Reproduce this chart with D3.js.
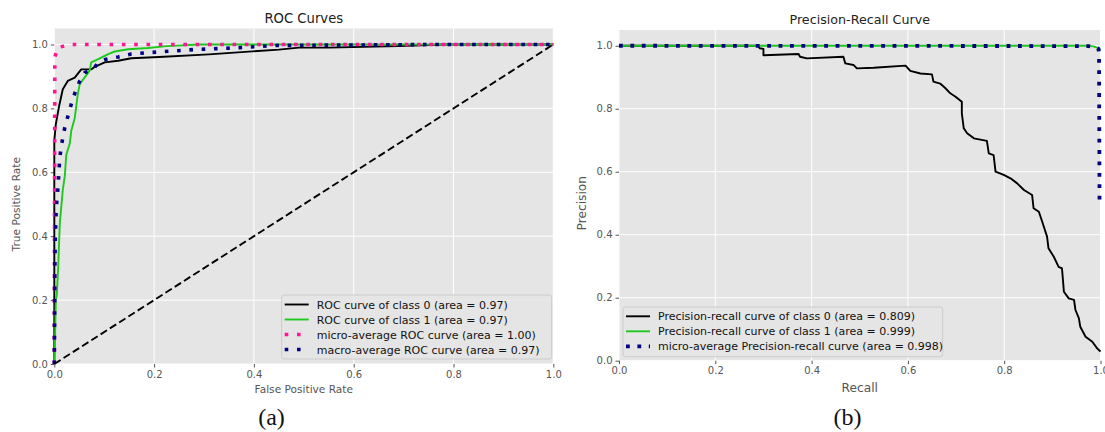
<!DOCTYPE html>
<html lang="en">
<head>
  <meta charset="UTF-8">
  <title>ROC and Precision-Recall</title>
  <style>
    body { margin: 0; background: #fff; }
    svg { display: block; font-family: "DejaVu Sans", sans-serif; }
  </style>
</head>
<body>
  <script src="https://cdn.jsdelivr.net/npm/d3@7"></script>
  <script>
    // ---- data ----
    const ticks = [0, 0.2, 0.4, 0.6, 0.8, 1.0];

    // ROC: [false positive rate, true positive rate]
    const rocClass0 = [[0,0],[0,0.70],[0.003,0.75],[0.01,0.81],[0.017,0.86],[0.027,0.886],[0.041,0.896],
      [0.054,0.922],[0.074,0.922],[0.081,0.93],[0.101,0.944],[0.128,0.949],[0.154,0.957],[0.21,0.961],
      [0.31,0.969],[0.45,0.984],[0.49,0.99],[0.55,0.99],[0.69,0.995],[0.78,1.0],[1,1]];
    const rocClass1 = [[0,0],[0.001,0.04],[0.003,0.2],[0.005,0.216],[0.008,0.31],[0.011,0.44],[0.015,0.51],
      [0.017,0.545],[0.021,0.587],[0.024,0.655],[0.031,0.69],[0.034,0.73],[0.041,0.77],[0.047,0.844],
      [0.051,0.876],[0.061,0.897],[0.071,0.918],[0.074,0.944],[0.088,0.954],[0.108,0.97],[0.121,0.978],
      [0.148,0.985],[0.188,0.989],[0.225,0.995],[0.29,1.0],[1,1]];
    const rocMicro = [[0,0],[0.001,0.96],[0.007,0.99],[0.03,1.0],[1,1]];
    const rocMacro = [[0,0],[0.001,0.3],[0.002,0.4],[0.004,0.49],[0.007,0.545],[0.011,0.645],[0.014,0.682],
      [0.021,0.74],[0.031,0.797],[0.037,0.829],[0.044,0.86],[0.051,0.886],[0.061,0.912],[0.078,0.922],
      [0.088,0.944],[0.104,0.954],[0.128,0.961],[0.154,0.97],[0.194,0.975],[0.279,0.984],[0.372,0.99],
      [0.446,0.997],[0.78,1.0],[1,1]];
    const rocChance = [[0,0],[1,1]];
    const rocLabels = ['ROC curve of class 0 (area = 0.97)', 'ROC curve of class 1 (area = 0.97)',
      'micro-average ROC curve (area = 1.00)', 'macro-average ROC curve (area = 0.97)'];

    // PR: [recall, precision]
    const prClass0 = [[0,1],[0.29,1.0],[0.292,0.992],[0.30,0.99],[0.30,0.97],[0.373,0.974],[0.376,0.965],
      [0.39,0.96],[0.466,0.965],[0.47,0.944],[0.487,0.939],[0.494,0.928],[0.529,0.93],[0.595,0.937],
      [0.605,0.92],[0.626,0.912],[0.65,0.909],[0.653,0.886],[0.667,0.88],[0.678,0.865],[0.688,0.849],
      [0.699,0.838],[0.712,0.822],[0.712,0.785],[0.716,0.738],[0.723,0.722],[0.737,0.706],[0.764,0.698],
      [0.768,0.658],[0.778,0.653],[0.782,0.6],[0.799,0.59],[0.813,0.579],[0.827,0.563],[0.841,0.542],
      [0.858,0.526],[0.861,0.484],[0.872,0.473],[0.879,0.441],[0.889,0.394],[0.892,0.357],[0.903,0.33],
      [0.913,0.298],[0.92,0.293],[0.924,0.219],[0.934,0.198],[0.945,0.193],[0.948,0.161],[0.955,0.135],
      [0.958,0.108],[0.969,0.076],[0.983,0.06],[0.993,0.039],[1.0,0.029]];
    const prClass1 = [[0,1],[0.97,1.0],[0.985,0.998],[0.993,0.994],[1.0,0.986]];
    const prMicro = [[0,1],[0.975,0.999],[0.99,0.996],[0.996,0.99],[0.997,0.96],[0.998,0.5]];
    const prLabels = ['Precision-recall curve of class 0 (area = 0.809)',
      'Precision-recall curve of class 1 (area = 0.999)',
      'micro-average Precision-recall curve (area = 0.998)'];

    const GREEN = '#1ec81e';

    const svg = d3.select('body').append('svg').attr('width', 1105).attr('height', 432);

    function panel(opt){
      const x = d3.scaleLinear().domain([0, 1]).range(opt.xr);
      const y = d3.scaleLinear().domain([0, 1.05]).range(opt.yr);
      const g = svg.append('g');

      g.append('rect')
        .attr('x', opt.xr[0]).attr('y', opt.yr[1])
        .attr('width', opt.xr[1] - opt.xr[0]).attr('height', opt.yr[0] - opt.yr[1])
        .attr('fill', '#e5e5e5');

      // grid
      g.selectAll('line.gx').data(ticks).enter().append('line')
        .attr('x1', d => x(d)).attr('x2', d => x(d))
        .attr('y1', opt.yr[0]).attr('y2', opt.yr[1])
        .attr('stroke', '#fff').attr('stroke-width', 1);
      g.selectAll('line.gy').data(ticks).enter().append('line')
        .attr('y1', d => y(d)).attr('y2', d => y(d))
        .attr('x1', opt.xr[0]).attr('x2', opt.xr[1])
        .attr('stroke', '#fff').attr('stroke-width', 1);

      // axes
      const xa = g.append('g').attr('transform', `translate(0,${opt.yr[0]})`)
        .call(d3.axisBottom(x).tickValues(ticks).tickFormat(d3.format('.1f')).tickSize(3.5).tickPadding(3));
      const ya = g.append('g').attr('transform', `translate(${opt.xr[0]},0)`)
        .call(d3.axisLeft(y).tickValues(ticks).tickFormat(d3.format('.1f')).tickSize(3.5).tickPadding(3));
      [xa, ya].forEach(a => {
        a.select('.domain').remove();
        a.selectAll('line').attr('stroke', '#555');
        a.selectAll('text').attr('fill', '#555').style('font-size', '10px')
          .style('font-family', '"DejaVu Sans", sans-serif');
      });

      const line = d3.line().x(d => x(d[0])).y(d => y(d[1]));
      opt.series.forEach(s => {
        g.append('path').datum(s.data)
          .attr('d', line)
          .attr('fill', 'none')
          .attr('stroke', s.color)
          .attr('stroke-width', s.width)
          .attr('stroke-dasharray', s.dash || null)
          .attr('stroke-linejoin', 'round');
      });

      // labels
      const cx = (opt.xr[0] + opt.xr[1]) / 2;
      g.append('text').attr('x', cx).attr('y', opt.titleY).attr('text-anchor', 'middle')
        .style('font-size', opt.titleSize + 'px').attr('fill', '#222').text(opt.title);
      g.append('text').attr('x', cx).attr('y', opt.xlabY).attr('text-anchor', 'middle')
        .style('font-size', opt.labSize + 'px').attr('fill', '#555').text(opt.xlab);
      g.append('text').attr('transform', `translate(${opt.ylabX},${(opt.yr[0] + y(1.0)) / 2}) rotate(-90)`)
        .attr('text-anchor', 'middle')
        .style('font-size', opt.labSize + 'px').attr('fill', '#555').text(opt.ylab);

      // legend
      const L = opt.legend;
      const lg = g.append('g').attr('transform', `translate(${L.x},${L.y})`);
      lg.append('rect').attr('width', L.w).attr('height', L.h).attr('rx', 2.5)
        .attr('fill', 'rgba(229,229,229,0.8)').attr('stroke', '#cccccc').attr('stroke-width', 1);
      const items = lg.selectAll('g.item').data(opt.series.filter(s => s.label)).enter().append('g')
        .attr('transform', (d, i) => `translate(0,${L.row0 + i * 15})`);
      items.append('line').attr('x1', 3).attr('x2', 27)
        .attr('stroke', d => d.color).attr('stroke-width', d => d.width)
        .attr('stroke-dasharray', d => d.dash || null);
      items.append('text').attr('x', 35).attr('y', 4)
        .style('font-size', '11px').attr('fill', '#111').text(d => d.label);

      svg.append('text').attr('x', opt.capX).attr('y', 425).attr('text-anchor', 'middle')
        .style('font-family', '"Liberation Serif", "Times New Roman", serif').style('font-size', '24px')
        .attr('fill', '#111').text(opt.caption);
    }

    panel({
      xr: [54.3, 553.3], yr: [364, 28.5],
      title: 'ROC Curves', titleY: 22.7, titleSize: 13.2,
      xlab: 'False Positive Rate', xlabY: 393, ylab: 'True Positive Rate', ylabX: 20, labSize: 10.6,
      legend: {x: 281.7, y: 295, w: 270, h: 64, row0: 9.5},
      caption: '(a)', capX: 271.5,
      series: [
        {data: rocClass0, color: '#000', width: 1.9, label: rocLabels[0]},
        {data: rocClass1, color: GREEN, width: 1.9, label: rocLabels[1]},
        {data: rocMicro, color: 'deeppink', width: 3.6, dash: '3.6,8.7', label: rocLabels[2]},
        {data: rocMacro, color: 'navy', width: 3.6, dash: '3.6,8.7', label: rocLabels[3]},
        {data: rocChance, color: '#000', width: 1.9, dash: '7.5,3.5'}
      ]
    });

    panel({
      xr: [619, 1100.5], yr: [360.7, 30],
      title: 'Precision-Recall Curve', titleY: 24, titleSize: 12.7,
      xlab: 'Recall', xlabY: 392, ylab: 'Precision', ylabX: 586, labSize: 12.2,
      legend: {x: 623, y: 307, w: 319.7, h: 49.7, row0: 9.3},
      caption: '(b)', capX: 847.5,
      series: [
        {data: prClass0, color: '#000', width: 1.9, label: prLabels[0]},
        {data: prClass1, color: GREEN, width: 1.9, label: prLabels[1]},
        {data: prMicro, color: 'navy', width: 3.8, dash: '3.8,7.6', label: prLabels[2]}
      ]
    });
  </script>
</body>
</html>
